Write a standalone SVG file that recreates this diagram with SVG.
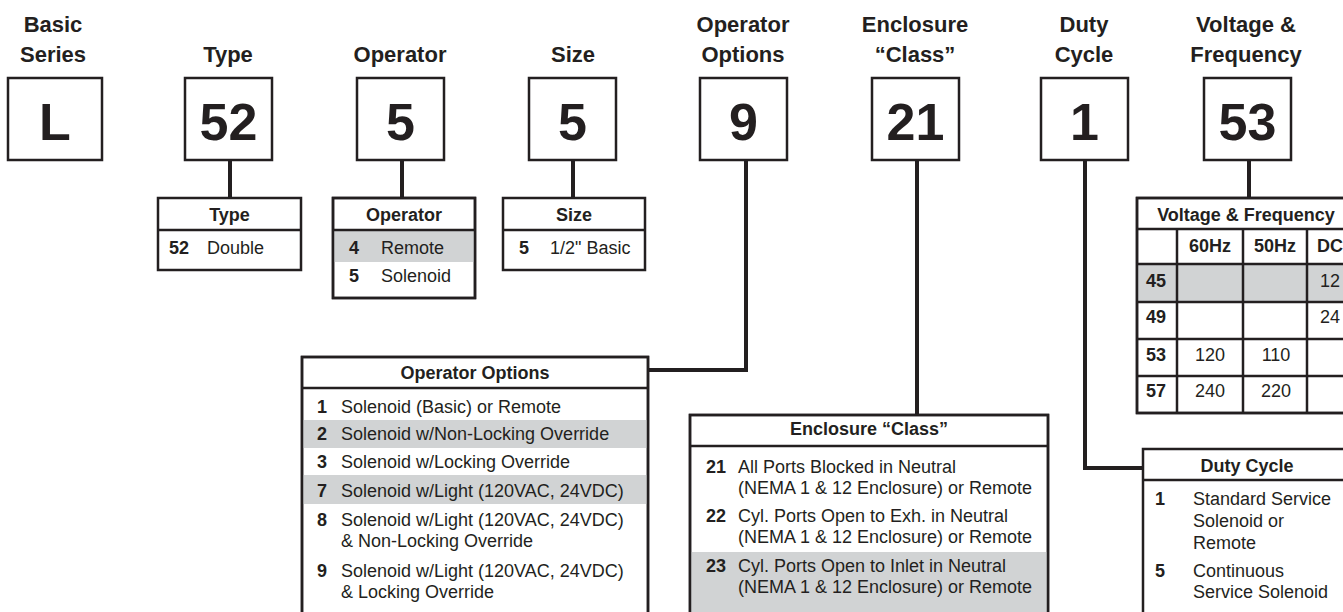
<svg xmlns="http://www.w3.org/2000/svg" width="1343" height="612" viewBox="0 0 1343 612">
<style>
  text { font-family: "Liberation Sans", Arial, sans-serif; fill: #231f20; }
  .h { font-size: 22px; font-weight: bold; text-anchor: middle; }
  .big { font-size: 52px; font-weight: bold; text-anchor: middle; }
  .th { font-size: 18px; font-weight: bold; text-anchor: middle; }
  .n { font-size: 18px; font-weight: bold; }
  .t { font-size: 18px; }
  .c { font-size: 18px; text-anchor: middle; }
  .box { fill: #ffffff; stroke: #231f20; stroke-width: 2.5; }
  .tbl { fill: none; stroke: #231f20; stroke-width: 2.5; }
  .ln { stroke: #231f20; stroke-width: 2.5; fill: none; }
  .gray { fill: #d1d3d4; }
  .conn { stroke: #231f20; stroke-width: 4; fill: none; }
</style>
<rect width="1343" height="612" fill="#ffffff"/>

<g id="connectors">
  <path class="conn" d="M230 160 V198"/>
  <path class="conn" d="M402 160 V198"/>
  <path class="conn" d="M573 160 V198"/>
  <path class="conn" d="M746 160 V370 H649"/>
  <path class="conn" d="M917 160 V415"/>
  <path class="conn" d="M1085 160 V468 H1143"/>
  <path class="conn" d="M1249 160 V198"/>
</g>

<g id="code-basic-series">
  <text class="h" x="53" y="32">Basic</text>
  <text class="h" x="53" y="62">Series</text>
  <rect class="box" x="8" y="78" width="94" height="82"/>
  <text class="big" x="55" y="140">L</text>
</g>
<g id="code-type">
  <text class="h" x="228" y="62">Type</text>
  <rect class="box" x="185" y="78" width="87" height="82"/>
  <text class="big" x="228.5" y="140">52</text>
</g>
<g id="code-operator">
  <text class="h" x="400" y="62">Operator</text>
  <rect class="box" x="357" y="78" width="87" height="82"/>
  <text class="big" x="400.5" y="140">5</text>
</g>
<g id="code-size">
  <text class="h" x="573" y="62">Size</text>
  <rect class="box" x="529" y="78" width="87" height="82"/>
  <text class="big" x="572.5" y="140">5</text>
</g>
<g id="code-operator-options">
  <text class="h" x="743" y="32">Operator</text>
  <text class="h" x="743" y="62">Options</text>
  <rect class="box" x="700" y="78" width="87" height="82"/>
  <text class="big" x="743.5" y="140">9</text>
</g>
<g id="code-enclosure">
  <text class="h" x="915" y="32">Enclosure</text>
  <text class="h" x="915" y="62">“Class”</text>
  <rect class="box" x="872" y="78" width="87" height="82"/>
  <text class="big" x="915.5" y="140">21</text>
</g>
<g id="code-duty-cycle">
  <text class="h" x="1084" y="32">Duty</text>
  <text class="h" x="1084" y="62">Cycle</text>
  <rect class="box" x="1041" y="78" width="87" height="82"/>
  <text class="big" x="1084.5" y="140">1</text>
</g>
<g id="code-voltage">
  <text class="h" x="1246" y="32">Voltage &amp;</text>
  <text class="h" x="1246" y="62">Frequency</text>
  <rect class="box" x="1204" y="78" width="87" height="82"/>
  <text class="big" x="1247.5" y="140">53</text>
</g>

<g id="table-type">
  <rect class="box" x="158" y="198" width="143" height="72"/>
  <line class="ln" x1="158" y1="230" x2="301" y2="230"/>
  <text class="th" x="229.5" y="221">Type</text>
  <text class="n" x="169" y="254">52</text>
  <text class="t" x="207" y="254">Double</text>
</g>

<g id="table-operator">
  <rect class="box" x="333" y="198" width="142" height="100"/>
  <rect class="gray" x="334" y="230" width="140" height="32"/>
  <rect class="tbl" x="333" y="198" width="142" height="100"/>
  <line class="ln" x1="333" y1="230" x2="475" y2="230"/>
  <text class="th" x="404" y="221">Operator</text>
  <text class="n" x="349" y="254">4</text>
  <text class="t" x="381" y="254">Remote</text>
  <text class="n" x="349" y="282">5</text>
  <text class="t" x="381" y="282">Solenoid</text>
</g>

<g id="table-size">
  <rect class="box" x="503" y="198" width="142" height="72"/>
  <line class="ln" x1="503" y1="230" x2="645" y2="230"/>
  <text class="th" x="574" y="221">Size</text>
  <text class="n" x="519" y="254">5</text>
  <text class="t" x="550" y="254">1/2" Basic</text>
</g>

<g id="table-voltage">
  <rect class="box" x="1137" y="198" width="220" height="215"/>
  <rect class="gray" x="1138" y="264" width="218" height="38"/>
  <rect class="tbl" x="1137" y="198" width="220" height="215"/>
  <line class="ln" x1="1137" y1="229" x2="1357" y2="229"/>
  <line class="ln" x1="1137" y1="264" x2="1357" y2="264"/>
  <line class="ln" x1="1137" y1="302" x2="1357" y2="302"/>
  <line class="ln" x1="1137" y1="339" x2="1357" y2="339"/>
  <line class="ln" x1="1137" y1="376" x2="1357" y2="376"/>
  <line class="ln" x1="1177" y1="229" x2="1177" y2="413"/>
  <line class="ln" x1="1243" y1="229" x2="1243" y2="413"/>
  <line class="ln" x1="1307" y1="229" x2="1307" y2="413"/>
  <text class="th" x="1246" y="221">Voltage &amp; Frequency</text>
  <text class="th" x="1210" y="252">60Hz</text>
  <text class="th" x="1275" y="252">50Hz</text>
  <text class="n" x="1317" y="252">DC</text>
  <text class="n" x="1146" y="287">45</text>
  <text class="n" x="1146" y="323">49</text>
  <text class="n" x="1146" y="361">53</text>
  <text class="n" x="1146" y="397">57</text>
  <text class="t" x="1320" y="287">12</text>
  <text class="t" x="1320" y="323">24</text>
  <text class="c" x="1210" y="361">120</text>
  <text class="c" x="1276" y="361">110</text>
  <text class="c" x="1210" y="397">240</text>
  <text class="c" x="1276" y="397">220</text>
</g>

<g id="table-operator-options">
  <rect class="box" x="302" y="357" width="346" height="270"/>
  <rect class="gray" x="303" y="420" width="344" height="28"/>
  <rect class="gray" x="303" y="475" width="344" height="29"/>
  <rect class="tbl" x="302" y="357" width="346" height="270"/>
  <line class="ln" x1="302" y1="388" x2="648" y2="388"/>
  <text class="th" x="475" y="379">Operator Options</text>
  <text class="n" x="317" y="413">1</text>
  <text class="t" x="341" y="413">Solenoid (Basic) or Remote</text>
  <text class="n" x="317" y="440">2</text>
  <text class="t" x="341" y="440">Solenoid w/Non-Locking Override</text>
  <text class="n" x="317" y="468">3</text>
  <text class="t" x="341" y="468">Solenoid w/Locking Override</text>
  <text class="n" x="317" y="497">7</text>
  <text class="t" x="341" y="497">Solenoid w/Light (120VAC, 24VDC)</text>
  <text class="n" x="317" y="526">8</text>
  <text class="t" x="341" y="526">Solenoid w/Light (120VAC, 24VDC)</text>
  <text class="t" x="341" y="547">&amp; Non-Locking Override</text>
  <text class="n" x="317" y="577">9</text>
  <text class="t" x="341" y="577">Solenoid w/Light (120VAC, 24VDC)</text>
  <text class="t" x="341" y="598">&amp; Locking Override</text>
</g>

<g id="table-enclosure">
  <rect class="box" x="690" y="415" width="358" height="212"/>
  <rect class="gray" x="691" y="552" width="356" height="75"/>
  <rect class="tbl" x="690" y="415" width="358" height="212"/>
  <line class="ln" x1="690" y1="446" x2="1048" y2="446"/>
  <text class="th" x="869" y="435">Enclosure “Class”</text>
  <text class="n" x="706" y="473">21</text>
  <text class="t" x="738" y="473">All Ports Blocked in Neutral</text>
  <text class="t" x="738" y="494">(NEMA 1 &amp; 12 Enclosure) or Remote</text>
  <text class="n" x="706" y="522">22</text>
  <text class="t" x="738" y="522">Cyl. Ports Open to Exh. in Neutral</text>
  <text class="t" x="738" y="543">(NEMA 1 &amp; 12 Enclosure) or Remote</text>
  <text class="n" x="706" y="572">23</text>
  <text class="t" x="738" y="572">Cyl. Ports Open to Inlet in Neutral</text>
  <text class="t" x="738" y="593">(NEMA 1 &amp; 12 Enclosure) or Remote</text>
</g>

<g id="table-duty-cycle">
  <rect class="box" x="1143" y="449" width="215" height="180"/>
  <line class="ln" x1="1143" y1="480" x2="1358" y2="480"/>
  <text class="th" x="1247" y="472">Duty Cycle</text>
  <text class="n" x="1155" y="505">1</text>
  <text class="t" x="1193" y="505">Standard Service</text>
  <text class="t" x="1193" y="527">Solenoid or</text>
  <text class="t" x="1193" y="549">Remote</text>
  <text class="n" x="1155" y="577">5</text>
  <text class="t" x="1193" y="577">Continuous</text>
  <text class="t" x="1193" y="598">Service Solenoid</text>
</g>
</svg>
